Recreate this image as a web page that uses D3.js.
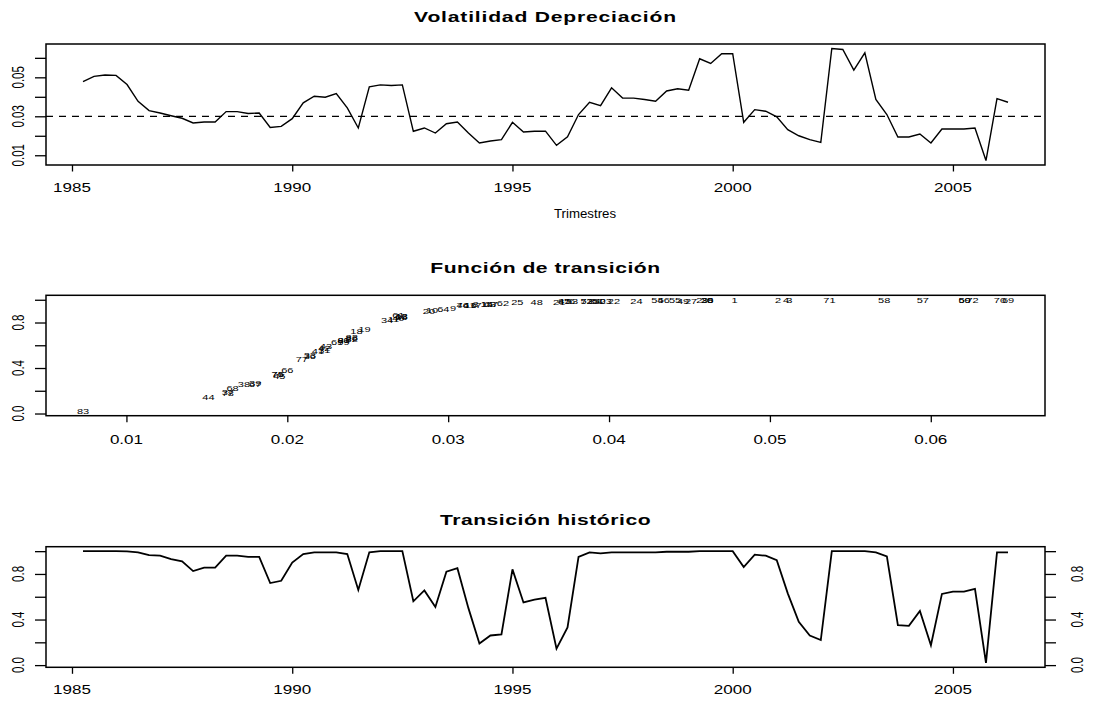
<!DOCTYPE html>
<html><head><meta charset="utf-8">
<script src="https://cdn.jsdelivr.net/npm/d3@7"></script>
<style>
body{margin:0;background:#fff;}
svg{display:block;}
text{font-family:"Liberation Sans",Arial,sans-serif;fill:#000;}
</style></head>
<body><svg id="c" width="1094" height="702"></svg>
<script>
// ---- data (quarterly series, start 1985 Q2) ----
const startYear = 1985.25;
const frequency = 4;
const volatility = [
0.0478,0.0505,0.0512,0.0510,0.0463,0.0377,0.0329,0.0317,0.0303,0.0290,
0.0266,0.0271,0.0271,0.0324,0.0324,0.0314,0.0317,0.0243,0.0248,0.0288,
0.0369,0.0403,0.0398,0.0417,0.0343,0.0240,0.0451,0.0461,0.0458,0.0461,
0.0223,0.0240,0.0214,0.0262,0.0271,0.0214,0.0163,0.0173,0.0180,0.0269,
0.0219,0.0223,0.0224,0.0151,0.0195,0.0309,0.0372,0.0355,0.0446,0.0394,
0.0393,0.0386,0.0377,0.0430,0.0441,0.0434,0.0595,0.0571,0.0621,0.0621,
0.0269,0.0334,0.0326,0.0297,0.0231,0.0200,0.0180,0.0166,0.0648,0.0643,
0.0537,0.0626,0.0386,0.0309,0.0194,0.0194,0.0209,0.0163,0.0235,0.0235,
0.0235,0.0240,0.0073,0.0391,0.0372];
const transition = [
1.0,1.0,1.0,1.0,0.998,0.99,0.965,0.96,0.93,0.91,
0.825,0.855,0.855,0.96,0.96,0.95,0.95,0.72,0.74,0.90,
0.975,0.99,0.99,0.99,0.975,0.66,0.99,1.0,1.0,1.0,
0.56,0.655,0.51,0.82,0.85,0.50,0.19,0.26,0.27,0.84,
0.55,0.575,0.59,0.145,0.33,0.95,0.99,0.98,0.99,0.99,
0.99,0.99,0.99,0.995,0.995,0.995,1.0,1.0,1.0,1.0,
0.86,0.97,0.96,0.92,0.63,0.38,0.26,0.22,1.0,1.0,
1.0,1.0,0.99,0.955,0.35,0.345,0.475,0.175,0.625,0.645,
0.645,0.67,0.02,0.99,0.99];
const threshold = 0.03;
const yearTicks = [1985,1990,1995,2000,2005];
const volTicks = [0.01,0.02,0.03,0.04,0.05,0.06];
const volTickLabels = ["0.01","","0.03","","0.05",""];
const midXTicks = [0.01,0.02,0.03,0.04,0.05,0.06];
const probTicks = [0,0.2,0.4,0.6,0.8,1.0];
const probTickLabels = ["0.0","","0.4","","0.8",""];
const titles = ["Volatilidad Depreciación","Función de transición","Transición histórico"];
const xLabel = "Trimestres";

// ---- layout ----
const svg = d3.select("#c");
const L = 46, R = 1045;
const P = [{y0:44,y1:165},{y0:295.3,y1:415.7},{y0:546.7,y1:667.3}];
const SX = 1.36;          // horizontal stretch of glyphs
const FS = 12.5, FSR = 11.5, FST = 15.5;
const pad = e => [e[0]-0.04*(e[1]-e[0]), e[1]+0.04*(e[1]-e[0])];

const time = volatility.map((v,i)=> startYear + i/frequency);
const x = d3.scaleLinear().domain(pad(d3.extent(time))).range([L,R]);

function htext(g, x0, y0, s, size, weight, sx, ls){
  return g.append("text").attr("transform",`translate(${x0},${y0}) scale(${sx||SX},1)`)
    .attr("text-anchor","middle").style("font-size",size+"px")
    .style("letter-spacing",(ls||0)+"px")
    .style("font-weight",weight||"normal").text(s);
}
function vtext(g, cx, cy, s, size){
  const bx = cx + 0.358*size*SX;
  return g.append("text").attr("transform",`translate(${bx},${cy}) scale(${SX},1) rotate(-90)`)
    .attr("text-anchor","middle").style("font-size",size+"px").text(s);
}
function box(p){
  svg.append("rect").attr("x",L).attr("y",p.y0).attr("width",R-L).attr("height",p.y1-p.y0)
    .attr("fill","none").attr("stroke","#000").attr("stroke-width",1.5);
}
function xAxis(p, scale, ticks, fmt, labOff){
  const g = svg.append("g").attr("transform",`translate(0,${p.y1})`);
  g.call(d3.axisBottom(scale).tickValues(ticks).tickSize(6.5).tickFormat(""))
   .call(a=>a.select(".domain").remove());
  g.selectAll("line").attr("stroke","#000").attr("stroke-width",1.3);
  ticks.forEach(t=> htext(g, scale(t), labOff, fmt(t), FS));
}
function yAxis(p, scale, ticks, labels, side){
  const g = svg.append("g").attr("transform",`translate(${side==="left"?L:R},0)`);
  const ax = side==="left" ? d3.axisLeft(scale) : d3.axisRight(scale);
  g.call(ax.tickValues(ticks).tickSize(11).tickFormat(""))
   .call(a=>a.select(".domain").remove());
  g.selectAll("line").attr("stroke","#000").attr("stroke-width",1.3);
  ticks.forEach((t,i)=>{ if(labels[i]) vtext(g, side==="left"?-27.5:32.5, scale(t), labels[i], FSR); });
}

// ---- panel 1: volatility over time ----
const y1 = d3.scaleLinear().domain(pad(d3.extent(volatility))).range([P[0].y1,P[0].y0]);
svg.append("line").attr("x1",L).attr("x2",R).attr("y1",y1(threshold)).attr("y2",y1(threshold))
  .attr("stroke","#000").attr("stroke-width",1.2).attr("stroke-dasharray","7,6");
svg.append("path").datum(volatility)
  .attr("d", d3.line().x((d,i)=>x(time[i])).y(d=>y1(d)))
  .attr("fill","none").attr("stroke","#000").attr("stroke-width",1.4);
box(P[0]);
xAxis(P[0], x, yearTicks, d3.format("d"), 27.3);
yAxis(P[0], y1, volTicks, volTickLabels, "left");
htext(svg, (L+R)/2, 21.7, titles[0], FST, "bold", 1.36, 0.6);
htext(svg, 585, 218, xLabel, FS, "normal", 1.06);

// ---- panel 2: transition function ----
const x2 = d3.scaleLinear().domain(pad(d3.extent(volatility))).range([L,R]);
const y2 = d3.scaleLinear().domain(pad(d3.extent(transition))).range([P[1].y1,P[1].y0]);
const lab = svg.append("g");
volatility.forEach((v,i)=>{
  lab.append("text").attr("transform",`translate(${x2(v)},${y2(transition[i])}) scale(1.45,1)`)
    .attr("text-anchor","middle").attr("dominant-baseline","central")
    .style("font-size","7.6px").text(String(i+1));
});
box(P[1]);
xAxis(P[1], x2, midXTicks, d3.format(".2f"), 28.3);
yAxis(P[1], y2, probTicks, probTickLabels, "left");
htext(svg, (L+R)/2, 272.7, titles[1], FST, "bold", 1.36, 0.4);

// ---- panel 3: transition over time ----
const y3 = d3.scaleLinear().domain(pad(d3.extent(transition))).range([P[2].y1,P[2].y0]);
svg.append("path").datum(transition)
  .attr("d", d3.line().x((d,i)=>x(time[i])).y(d=>y3(d)))
  .attr("fill","none").attr("stroke","#000").attr("stroke-width",1.8);
box(P[2]);
xAxis(P[2], x, yearTicks, d3.format("d"), 26.5);
yAxis(P[2], y3, probTicks, probTickLabels, "left");
yAxis(P[2], y3, probTicks, probTickLabels, "right");
htext(svg, (L+R)/2, 525, titles[2], FST, "bold", 1.36, 0.4);
</script></body></html>
